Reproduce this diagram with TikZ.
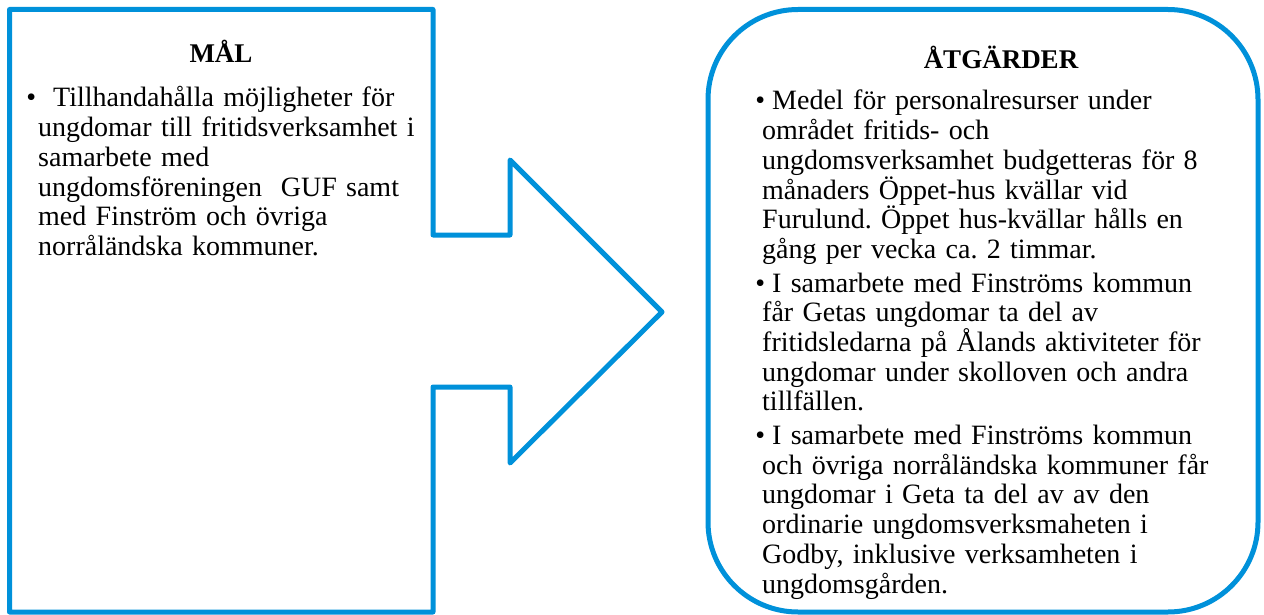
\documentclass[tikz,border=0pt]{standalone}
\usepackage{fontspec}
\setmainfont{Liberation Serif}
\usetikzlibrary{positioning}
\definecolor{malblue}{RGB}{0,145,218}
\tikzset{
  frame/.style={draw=malblue, line width=5pt, line join=round},
  head/.style={font=\fontsize{27}{32}\selectfont\bfseries, inner sep=0pt, anchor=base},
  item/.style={font=\fontsize{28}{29.7}\selectfont\frenchspacing, inner sep=0pt,
    align=left, anchor=base west, text width=#1}
}
% bullet hanging in front of the first line
\newcommand{\itm}[2]{\hspace*{#1}\llap{\textbullet\hspace{#2}}}

\begin{document}
\begin{tikzpicture}[x=1pt,y=-1pt]
  \useasboundingbox (0,0) rectangle (1264,615);

  % left box with arrow
  \draw[frame] (9.5,9.5) -- (433,9.5) -- (433,235) -- (510,235) -- (510,160)
    -- (662,312) -- (510,463) -- (510,387) -- (433,387) -- (433,612)
    -- (9.5,612) -- cycle;
  % right box
  \draw[frame, rounded corners=90pt] (708,9.5) rectangle (1258,612);

  \node[head] (mal) at (221,63) {MÅL};
  \node[item=390pt] (malitem) at (38,107)
    {\itm{15pt}{17pt}Tillhandahålla möjligheter för\\
     ungdomar till fritidsverksamhet i\\
     samarbete med\\
     ungdomsföreningen\ \ GUF samt\\
     med Finström och övriga\\
     norråländska kommuner.};

  \node[head] (atg) at (1001,69) {ÅTGÄRDER};
  \node[item=490pt] (b1) at (762,110)
    {\itm{10pt}{7pt}Medel för personalresurser under\\
     området fritids- och\\
     ungdomsverksamhet budgetteras för 8\\
     månaders Öppet-hus kvällar vid\\
     Furulund. Öppet hus-kvällar hålls en\\
     gång per vecka ca. 2 timmar.};
  \node[item=490pt] (b2) at (762,292)
    {\itm{10pt}{7pt}I samarbete med Finströms kommun\\
     får Getas ungdomar ta del av\\
     fritidsledarna på Ålands aktiviteter för\\
     ungdomar under skolloven och andra\\
     tillfällen.};
  \node[item=490pt] (b3) at (762,444.5)
    {\itm{10pt}{7pt}I samarbete med Finströms kommun\\
     och övriga norråländska kommuner får\\
     ungdomar i Geta ta del av av den\\
     ordinarie ungdomsverksmaheten i\\
     Godby, inklusive verksamheten i\\
     ungdomsgården.};
\end{tikzpicture}
\end{document}
